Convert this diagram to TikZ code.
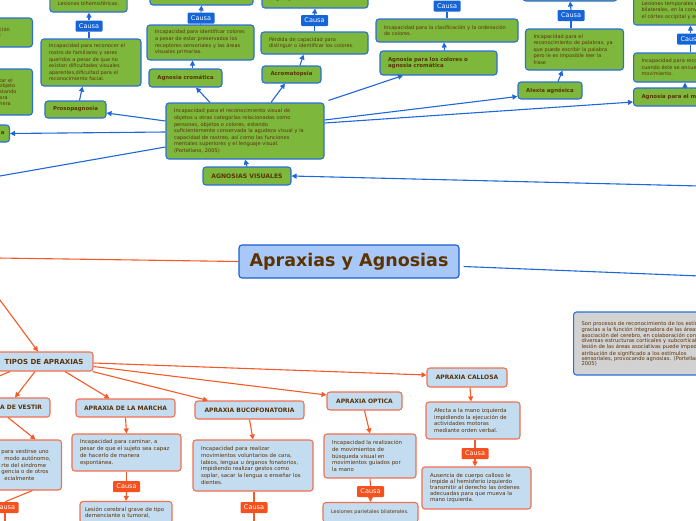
\documentclass[tikz,border=0pt]{standalone}
\usepackage{fontspec}
\setmainfont{DejaVu Sans}
\usetikzlibrary{arrows.meta}
\definecolor{ggreen}{HTML}{7DB83C}
\definecolor{bborder}{HTML}{2A6EDC}
\definecolor{bline}{HTML}{1F66D8}
\definecolor{tbrown}{HTML}{5A3208}
\definecolor{cblue}{HTML}{1565D8}
\definecolor{lblue}{HTML}{C3DCF0}
\definecolor{oborder}{HTML}{F07050}
\definecolor{oline}{HTML}{F45A28}
\definecolor{cred}{HTML}{F4511E}
\definecolor{tfill}{HTML}{A8C8FA}
\definecolor{tborder}{HTML}{1A5ED0}
\definecolor{gfill}{HTML}{D2D2D2}
\definecolor{ttitle}{HTML}{5C3300}
\newcommand\myfs[2]{\fontsize{#1}{#2}\selectfont}
\begin{document}
\begin{tikzpicture}[x=1pt,y=-1pt,
 gbox/.style={draw=bborder, fill=ggreen, line width=1.1pt, rounded corners=3pt, text=tbrown, font=\myfs{5}{6.6}, align=left, inner xsep=8pt, inner ysep=1pt},
 gtitle/.style={draw=bborder, fill=ggreen, line width=1.1pt, rounded corners=3pt, text=tbrown, font=\bfseries\myfs{5.4}{6.6}, align=center, inner sep=0pt},
 bcausa/.style={fill=cblue, text=white, font=\myfs{6.5}{7}, rounded corners=1pt, minimum width=27pt, minimum height=11pt, inner sep=0pt},
 obox/.style={draw=oborder, fill=lblue, line width=1.1pt, rounded corners=3pt, text=tbrown, font=\myfs{5.4}{6.7}, align=left, inner xsep=8pt, inner ysep=1pt},
 otitle/.style={draw=oborder, fill=lblue, line width=1.1pt, rounded corners=3pt, text=tbrown, font=\bfseries\myfs{6}{7}, align=center, inner sep=0pt},
 ocausa/.style={fill=cred, text=white, font=\myfs{6.5}{7}, rounded corners=1pt, minimum width=27pt, minimum height=11pt, inner sep=0pt},
 barrow/.style={draw=bline, line width=1.1pt, -{Triangle[length=5pt,width=5pt]}},
 bcon/.style={draw=bline, line width=1.1pt},
 oarrow/.style={draw=oline, line width=1.1pt, -{Triangle[length=5pt,width=5pt]}},
 ocon/.style={draw=oline, line width=1.1pt},
]
\useasboundingbox (0,0) rectangle (696,520);
\clip (0,0) rectangle (696,520);

% ---------- off-picture end points ----------
\coordinate (offL) at (-2,258);
\coordinate (offT) at (-3,296);
\coordinate (offA) at (-3,176.5);
\coordinate (offA2) at (-3,377);
\coordinate (offR) at (700,276);
\coordinate (offR2) at (700,186);
\coordinate (offU4) at (447,-8);
\coordinate (offD1) at (5,528);
\coordinate (offD2) at (254,528);

% ---------- Agnosias (top) ----------
\node[gbox, minimum width=77pt, minimum height=16pt, align=center] (lbih) at (88.5,4) {Lesiones bihemisféricas.};
\node[bcausa] (c1) at (89,26) {Causa};
\node[gbox, text width=84pt, minimum height=47pt] (pd) at (91,62.5) {Incapacidad para reconocer el\\rostro de familiares y seres\\queridos a pesar de que no\\existan dificultades visuales\\aparentes,dificultad para el\\reconocimiento facial.};
\node[gtitle, minimum width=61pt, minimum height=17pt] (pr) at (75.5,109.5) {Prosopagnosia};

\node[gbox, text width=27pt, minimum height=29pt, anchor=east, inner xsep=6pt] (l1) at (33,32.5) {ción\\l};
\node[gbox, text width=27pt, minimum height=46pt, anchor=east, inner xsep=6pt, font=\myfs{5}{5.9}] (l2) at (33,92) {tar el\\objeto\\stando\\ara\\nera};
\node[gtitle, text width=15pt, align=right, minimum height=17pt, anchor=east, inner xsep=5pt] (l3) at (10,133.5) {a};

\node[gbox, text width=142pt, minimum height=56pt, font=\myfs{5.1}{6.6}] (agn) at (245,131) {Incapacidad para el reconocimiento visual de\\objetos u otras categorías relacionadas como\\personas, objetos o colores, estando\\suficientemente conservada la agudeza visual y la\\capacidad de rastreo, así como las funciones\\mentales superiores y el lenguaje visual.\\(Portellano, 2005)};
\node[gtitle, font=\bfseries\myfs{6.1}{7}, minimum width=88pt, minimum height=18pt] (av) at (247,176) {AGNOSIAS VISUALES};

\node[gbox, minimum width=103pt, minimum height=15pt] (tb2) at (201.5,-2.5) {};
\node[bcausa] (c2) at (201,18) {Causa};
\node[gbox, text width=91pt, minimum height=35pt] (acd) at (200.5,42.5) {Incapacidad para identificar colores\\a pesar de estar preservados los\\receptores sensoriales y las áreas\\visuales primarias.};
\node[gtitle, minimum width=73pt, minimum height=18pt] (acr) at (185.5,78) {Agnosia cromática};

\node[gbox, text width=90pt, minimum height=18pt] (tb3) at (315,-1) {lingual y fusiforme.};
\node[bcausa] (c3) at (314.5,20.5) {Causa};
\node[gbox, text width=91pt, minimum height=22pt] (ad) at (314.5,43) {Pérdida de capacidad para\\distinguir o identificar los colores.};
\node[gtitle, minimum width=59pt, minimum height=17pt] (ac) at (291.5,74.5) {Acromatopsia};

\node[bcausa] (c4) at (447,6) {Causa};
\node[gbox, text width=126pt, minimum height=23pt] (cold) at (447,30.5) {Incapacidad para la clasificación y la ordenación\\de colores.};
\node[gtitle, text width=101pt, align=left, inner xsep=8pt, minimum height=24pt] (acol) at (438.5,63) {Agnosia para los colores o\\agnosia cromática};

\node[gbox, minimum width=94pt, minimum height=16pt] (tb5) at (570,-7) {};
\node[bcausa] (c5) at (571,15.5) {Causa};
\node[gbox, text width=82pt, minimum height=41pt] (xd) at (574.5,49.5) {Incapacidad para el\\reconocimiento de palabras, ya\\que puede escribir la palabra\\pero le es imposible leer la\\frase};
\node[gtitle, minimum width=64pt, minimum height=17pt] (alx) at (550,90.5) {Alexia agnósica};

\node[gbox, text width=100pt, minimum height=29pt, anchor=west] (tb6) at (633,10.5) {Lesiones temporales occipitales\\bilaterales, en la convexidad de\\el córtex occipital y en el};
\node[bcausa] (c6) at (690.5,39) {Causa};
\node[gbox, text width=95pt, minimum height=29pt, anchor=west] (amd) at (633,67.5) {Incapacidad para reconocer el objeto\\cuando éste se encuentra en\\movimiento.};
\node[gtitle, text width=90pt, align=left, inner xsep=8pt, minimum height=18pt, anchor=west] (amov) at (633,97) {Agnosia para el movimiento};

% grey description
\node[draw=bborder, fill=gfill, line width=1.1pt, rounded corners=3pt, text=tbrown, font=\myfs{5.2}{5.15}, align=left, text width=150pt, inner xsep=8pt, minimum height=63pt, anchor=west] (gr) at (573,343.5) {Son procesos de reconocimiento de los estímulos\\gracias a la función integradora de las áreas de\\asociación del cerebro, en colaboración con\\diversas estructuras corticales y subcorticales. La\\lesión de las áreas asociativas puede impedir la\\atribución de significado a los estímulos\\sensoriales, provocando agnosias. (Portellano,\\2005)};

% title
\node[draw=tborder, fill=tfill, line width=1.1pt, rounded corners=3pt, text=ttitle, font=\bfseries\myfs{17.5}{20}, minimum width=220pt, minimum height=33pt, inner sep=0pt] (title) at (349,261.5) {Apraxias y Agnosias};

% ---------- Apraxias (bottom) ----------
\node[otitle, font=\bfseries\myfs{7}{8}, minimum width=98pt, minimum height=19pt] (tipos) at (44,361.5) {TIPOS DE APRAXIAS};

\node[otitle, minimum width=83pt, minimum height=19pt] (vest) at (8.5,407.5) {APRAXIA DE VESTIR};
\node[obox, text width=54pt, inner xsep=6pt, minimum height=50pt, anchor=east] (vd) at (62,465) {para vestirse uno\\\hspace*{3pt}modo autónomo,\\rte del síndrome\\gencia o de otros\\\hspace*{3pt}ecialmente};
\node[ocausa] (cv) at (5,507.5) {Causa};

\node[otitle, minimum width=99pt, minimum height=18pt] (mar) at (125.5,408) {APRAXIA DE LA MARCHA};
\node[obox, text width=93pt, minimum height=37pt] (md) at (126.5,452.5) {Incapacidad para caminar, a\\pesar de que el sujeto sea capaz\\de hacerlo de manera\\espontánea.};
\node[ocausa] (cm) at (126.5,486.5) {Causa};
\node[obox, text width=82pt, inner xsep=5pt, minimum height=22pt] (ml) at (126,512.5) {Lesión cerebral grave de tipo\\demenciante o tumoral,};

\node[otitle, minimum width=109pt, minimum height=18pt] (buc) at (249.5,410) {APRAXIA BUCOFONATORIA};
\node[obox, text width=104pt, minimum height=51pt] (bd) at (253,465.5) {Incapacidad para realizar\\movimientos voluntarios de cara,\\labios, lengua u órganos fonatorios,\\impidiendo realizar gestos como\\soplar, sacar la lengua o enseñar los\\dientes.};
\node[ocausa] (cb) at (254,507.5) {Causa};

\node[otitle, minimum width=75pt, minimum height=18pt] (opt) at (364.5,401) {APRAXIA OPTICA};
\node[obox, text width=76pt, minimum height=44pt] (od) at (370,456) {Incapacidad la realización\\de movimientos de\\búsqueda visual en\\movimientos guiados por\\la mano};
\node[ocausa] (co) at (370.5,491.5) {Causa};
\node[obox, text width=79pt, minimum height=20pt, font=\myfs{5}{6.6}] (ol) at (370.5,512.5) {Lesiones parietales bilaterales.};

\node[otitle, minimum width=80pt, minimum height=19pt] (cal) at (467,377.5) {APRAXIA CALLOSA};
\node[obox, text width=78pt, minimum height=37pt] (cd) at (473,420.5) {Afecta a la mano izquierda\\impidiendo la ejecución de\\actividades motoras\\mediante orden verbal.};
\node[ocausa] (cc) at (475,453.5) {Causa};
\node[obox, text width=93pt, minimum height=42pt, font=\myfs{5.4}{5.9}] (cl) at (476.5,488) {Ausencia de cuerpo calloso le\\impide al hemisferio izquierdo\\transmitir al derecho las órdenes\\adecuadas para que mueva la\\mano izquierda.};

% ---------- connectors: agnosias ----------
\draw[barrow] ([yshift=10pt]agn.west) -- ([yshift=-3.5pt]pr.east);
\draw[barrow] ([yshift=-1pt]agn.west) -- (l3.east);
\draw[bcon] ([yshift=-16pt]agn.west) -- (offA);
\draw[barrow] ([xshift=-35pt]agn.north) -- ([xshift=10.5pt]acr.south);
\draw[barrow] ([xshift=26pt]agn.north) -- ([xshift=-6.5pt]ac.south);
\draw[barrow] ([xshift=4pt,yshift=2pt]agn.north east) -- ([xshift=-35.5pt]acol.south);
\draw[barrow] ([yshift=11pt]agn.east) -- ([yshift=-6pt]alx.west);
\draw[barrow] ([yshift=8pt]agn.east) -- ([yshift=-5pt]amov.west);
\draw[barrow] (av.north) -- (agn.south);
\draw[barrow] (offR2) -- (av.east);

\draw[barrow] ([xshift=4pt]pr.north) -- ([xshift=-8.5pt]pd.south);
\draw[bcon] ([xshift=-2pt]pd.north) -- (c1.south);
\draw[barrow] (c1.north) -- ([xshift=0.5pt]lbih.south);

\draw[barrow] ([xshift=7pt]acr.north) -- ([xshift=-8pt]acd.south);
\draw[bcon] (acd.north) -- (c2.south);
\draw[barrow] (c2.north) -- (tb2.south);

\draw[barrow] ([xshift=8.5pt]ac.north) -- ([xshift=-11pt]ad.south);
\draw[bcon] (ad.north) -- (c3.south);
\draw[barrow] (c3.north) -- (tb3.south);

\draw[barrow] ([xshift=6pt]acol.north) -- ([xshift=-3pt]cold.south);
\draw[bcon] (cold.north) -- (c4.south);
\draw[barrow] (c4.north) -- (offU4);

\draw[barrow] ([xshift=8pt]alx.north) -- ([xshift=-12pt]xd.south);
\draw[bcon] ([xshift=-3.5pt]xd.north) -- (c5.south);
\draw[barrow] (c5.north) -- ([xshift=0pt]tb5.south);

\draw[barrow] ([xshift=8.5pt]amov.north west) ++(43.5,0) coordinate (amovtop) (amovtop) -- (amovtop |- amd.south);
\draw[bcon] (c6 |- amd.north) -- (c6.south);
\draw[barrow] (c6.north) -- (c6 |- tb6.south);

% ---------- connectors: title ----------
\draw[ocon] (title.west) -- (offL);
\draw[bcon] ([xshift=4pt,yshift=-5pt]title.east) -- (offR);

% ---------- connectors: apraxias ----------
\draw[oarrow] (offT) -- ([xshift=-6pt]tipos.north);
\draw[ocon] ([xshift=-34pt]tipos.south) -- (offA2);
\draw[oarrow] ([xshift=-9pt]tipos.south) -- ([xshift=6.5pt]vest.north);
\draw[oarrow] ([xshift=21pt]tipos.south) -- ([xshift=-16pt]mar.north);
\draw[oarrow] ([xshift=-1pt]tipos.south east) -- ([xshift=-41.5pt]buc.north);
\draw[oarrow] ([yshift=-5pt]tipos.east) -- ([yshift=6pt]opt.west);
\draw[oarrow] ([yshift=-1.5pt]tipos.east) -- ([yshift=2.5pt]cal.west);

\draw[oarrow] ([xshift=-0.5pt]vest.south) -- ([xshift=7pt]vd.north);
\draw[ocon] ([xshift=4pt]vd.south) -- (cv.north);
\draw[oarrow] (cv.south) -- (offD1);

\draw[oarrow] (mar.south) -- (md.north);
\draw[ocon] (md.south) -- (cm.north);
\draw[oarrow] (cm.south) -- (ml.north);

\draw[oarrow] (buc.south) -- (bd.north);
\draw[ocon] ([xshift=1pt]bd.south) -- (cb.north);
\draw[oarrow] (cb.south) -- (offD2);

\draw[oarrow] (opt.south) -- (od.north);
\draw[ocon] (od.south) -- (co.north);
\draw[oarrow] (co.south) -- (ol.north);

\draw[oarrow] ([xshift=3pt]cal.south) -- ([xshift=-2pt]cd.north);
\draw[ocon] ([xshift=2pt]cd.south) -- (cc.north);
\draw[oarrow] (cc.south) -- ([xshift=-1.5pt]cl.north);
\end{tikzpicture}
\end{document}
